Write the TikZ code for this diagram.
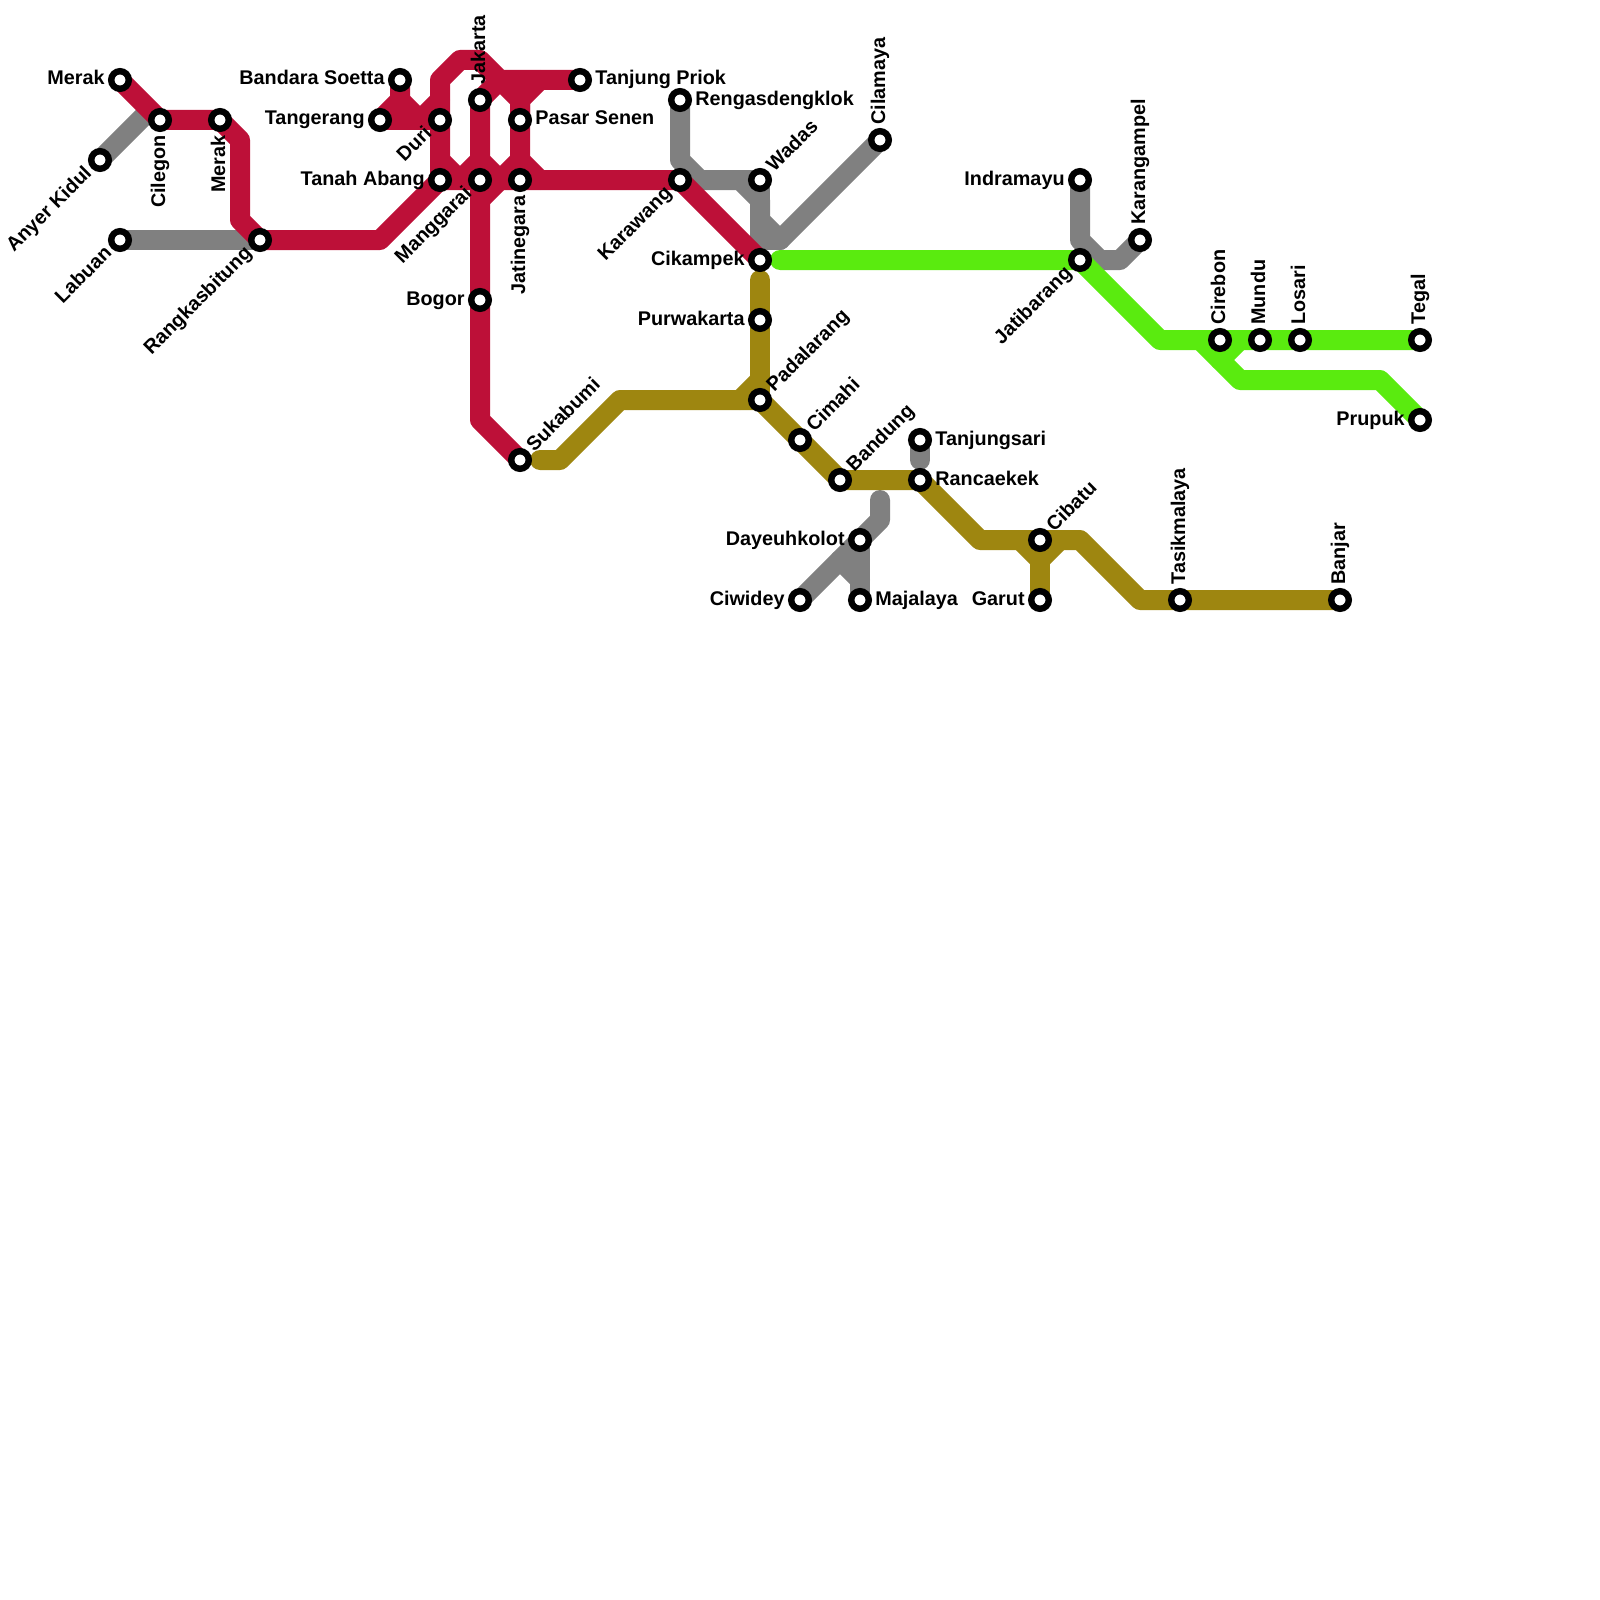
\documentclass[tikz,border=0pt]{standalone}
\usepackage{xcolor}
\usepackage{fontspec}
\setmainfont{Liberation Sans}
\usetikzlibrary{backgrounds}
\definecolor{linered}{HTML}{BD1038}
\definecolor{linegray}{HTML}{808080}
\definecolor{linegold}{HTML}{9E8610}
\definecolor{linegreen}{HTML}{5AEB0F}
\tikzstyle{stop} = [circle, minimum size=8.8pt, inner sep=0pt, outer sep=0pt, line width=3.2pt, draw=black, fill=white]
\tikzstyle{track} = [line width=10pt, line cap=round, line join=round]
\tikzstyle{lbl} = [inner sep=0pt, text height=5pt, text depth=0pt, font=\fontsize{9.9pt}{12pt}\selectfont\bfseries]
\tikzstyle{lble} = [lbl, anchor=west, xshift=7.5pt]
\tikzstyle{lblw} = [lbl, anchor=east, xshift=-7.5pt]
\tikzstyle{lbln} = [lbl, anchor=west, rotate=90, xshift=7.5pt]
\tikzstyle{lbls} = [lbl, anchor=east, rotate=90, xshift=-7.5pt]
\tikzstyle{lblne} = [lbl, anchor=west, rotate=45, xshift=7.5pt]
\tikzstyle{lblsw} = [lbl, anchor=east, rotate=45, xshift=-7.5pt]

\begin{document}
\begin{tikzpicture}[x=10pt, y=-10pt]
        \useasboundingbox (0,0) rectangle (80,80);

        \node (merak) [stop] at (6,4) {};
        \node (anyer) [stop] at (5,8) {};
        \node (cilegon) [stop] at (8,6) {};
        \node (merakb) [stop] at (11,6) {};
        \node (labuan) [stop] at (6,12) {};
        \node (rangkas) [stop] at (13,12) {};
        \node (soetta) [stop] at (20,4) {};
        \node (tangerang) [stop] at (19,6) {};
        \node (duri) [stop] at (22,6) {};
        \node (tanah) [stop] at (22,9) {};
        \node (jakarta) [stop] at (24,5) {};
        \node (manggarai) [stop] at (24,9) {};
        \node (jatinegara) [stop] at (26,9) {};
        \node (senen) [stop] at (26,6) {};
        \node (priok) [stop] at (29,4) {};
        \node (bogor) [stop] at (24,15) {};
        \node (sukabumi) [stop] at (26,23) {};
        \node (karawang) [stop] at (34,9) {};
        \node (rengas) [stop] at (34,5) {};
        \node (wadas) [stop] at (38,9) {};
        \node (cilamaya) [stop] at (44,7) {};
        \node (cikampek) [stop] at (38,13) {};
        \node (purwakarta) [stop] at (38,16) {};
        \node (padalarang) [stop] at (38,20) {};
        \node (cimahi) [stop] at (40,22) {};
        \node (bandung) [stop] at (42,24) {};
        \node (tanjungsari) [stop] at (46,22) {};
        \node (rancaekek) [stop] at (46,24) {};
        \node (dayeuh) [stop] at (43,27) {};
        \node (ciwidey) [stop] at (40,30) {};
        \node (majalaya) [stop] at (43,30) {};
        \node (cibatu) [stop] at (52,27) {};
        \node (garut) [stop] at (52,30) {};
        \node (tasik) [stop] at (59,30) {};
        \node (banjar) [stop] at (67,30) {};
        \node (indramayu) [stop] at (54,9) {};
        \node (karangampel) [stop] at (57,12) {};
        \node (jatibarang) [stop] at (54,13) {};
        \node (cirebon) [stop] at (61,17) {};
        \node (mundu) [stop] at (63,17) {};
        \node (losari) [stop] at (65,17) {};
        \node (tegal) [stop] at (71,17) {};
        \node (prupuk) [stop] at (71,21) {};

        \node (merakl) [lblw] at (merak) {Merak};
        \node (anyerl) [lblsw] at (anyer) {Anyer Kidul};
        \node (cilegonl) [lbls] at (cilegon) {Cilegon};
        \node (merakbl) [lbls] at (merakb) {Merak};
        \node (labuanl) [lblsw] at (labuan) {Labuan};
        \node (rangkasl) [lblsw] at (rangkas) {Rangkasbitung};
        \node (soettal) [lblw] at (soetta) {Bandara Soetta};
        \node (tangerangl) [lblw] at (tangerang) {Tangerang};
        \node (duril) [lblsw] at (duri) {Duri};
        \node (tanahl) [lblw] at (tanah) {Tanah Abang};
        \node (jakartal) [lbln] at (jakarta) {Jakarta};
        \node (manggarail) [lblsw] at (manggarai) {Manggarai};
        \node (jatinegaral) [lbls] at (jatinegara) {Jatinegara};
        \node (senenl) [lble] at (senen) {Pasar Senen};
        \node (priokl) [lble] at (priok) {Tanjung Priok};
        \node (bogorl) [lblw] at (bogor) {Bogor};
        \node (sukabumil) [lblne] at (sukabumi) {Sukabumi};
        \node (karawangl) [lblsw] at (karawang) {Karawang};
        \node (rengasl) [lble] at (rengas) {Rengasdengklok};
        \node (wadasl) [lblne] at (wadas) {Wadas};
        \node (cilamayal) [lbln] at (cilamaya) {Cilamaya};
        \node (cikampekl) [lblw] at (cikampek) {Cikampek};
        \node (purwakartal) [lblw] at (purwakarta) {Purwakarta};
        \node (padalarangl) [lblne] at (padalarang) {Padalarang};
        \node (cimahil) [lblne] at (cimahi) {Cimahi};
        \node (bandungl) [lblne] at (bandung) {Bandung};
        \node (tanjungsaril) [lble] at (tanjungsari) {Tanjungsari};
        \node (rancaekekl) [lble] at (rancaekek) {Rancaekek};
        \node (dayeuhl) [lblw] at (dayeuh) {Dayeuhkolot};
        \node (ciwideyl) [lblw] at (ciwidey) {Ciwidey};
        \node (majalayal) [lble] at (majalaya) {Majalaya};
        \node (cibatul) [lblne] at (cibatu) {Cibatu};
        \node (garutl) [lblw] at (garut) {Garut};
        \node (tasikl) [lbln] at (tasik) {Tasikmalaya};
        \node (banjarl) [lbln] at (banjar) {Banjar};
        \node (indramayul) [lblw] at (indramayu) {Indramayu};
        \node (karangampell) [lbln] at (karangampel) {Karangampel};
        \node (jatibarangl) [lblsw] at (jatibarang) {Jatibarang};
        \node (cirebonl) [lbln] at (cirebon) {Cirebon};
        \node (mundul) [lbln] at (mundu) {Mundu};
        \node (losaril) [lbln] at (losari) {Losari};
        \node (tegall) [lbln] at (tegal) {Tegal};
        \node (prupukl) [lblw] at (prupuk) {Prupuk};

        \begin{scope}[on background layer]
        % grey branches
        \draw [track, linegray] (anyer.center) -- (7.3,5.7);
        \draw [track, linegray] (labuan.center) -- (rangkas.center);
        \draw [track, linegray] (rengas.center) -- (34,8) -- (35,9) -- (37,9) -- (38,10) -- (38,11) -- (39,12) -- (cilamaya.center);
        \draw [track, linegray] (35,9) -- (wadas.center) -- (38,12) -- (39,12);
        \draw [track, linegray] (tanjungsari.center) -- (46,23);
        \draw [track, linegray] (44,25) -- (44,26) -- (dayeuh.center) -- (ciwidey.center);
        \draw [track, linegray] (dayeuh.center) -- (majalaya.center);
        \draw [track, linegray] (42,28) -- (43,29);
        \draw [track, linegray] (indramayu.center) -- (54,12) -- (55,13) -- (56,13) -- (karangampel.center);

        % gold line
        \draw [track, linegold] (27,23) -- (28,23) -- (31,20) -- (padalarang.center) -- (bandung.center) -- (rancaekek.center) -- (49,27) -- (54,27) -- (57,30) -- (banjar.center);
        \draw [track, linegold] (38,14) -- (padalarang.center);
        \draw [track, linegold] (37,20) -- (38,19);
        \draw [track, linegold] (51,27) -- (52,28) -- (53,27);
        \draw [track, linegold] (cibatu.center) -- (garut.center);

        % green line
        \draw [track, linegreen] (39,13) -- (jatibarang.center) -- (58,17) -- (tegal.center);
        \draw [track, linegreen] (60,17) -- (62,19) -- (69,19) -- (prupuk.center);
        \draw [track, linegreen] (61,18) -- (62,17);

        % red network
        \draw [track, linered] (merak.center) -- (cilegon.center) -- (merakb.center) -- (12,7) -- (12,11) -- (rangkas.center) -- (19,12) -- (tanah.center) -- (karawang.center) -- (cikampek.center);
        \draw [track, linered] (soetta.center) -- (20,5) -- (tangerang.center) -- (duri.center);
        \draw [track, linered] (20,5) -- (21,6) -- (22,5);
        \draw [track, linered] (tanah.center) -- (22,4) -- (23,3) -- (24,3) -- (25,4) -- (priok.center);
        \draw [track, linered] (jakarta.center) -- (24,21) -- (sukabumi.center);
        \draw [track, linered] (jakarta.center) -- (25,4) -- (26,5) -- (jatinegara.center);
        \draw [track, linered] (senen.center) -- (26,5) -- (27,4);
        \draw [track, linered] (22,8) -- (23,9) -- (24,8);
        \draw [track, linered] (24,8) -- (25,9) -- (26,8) -- (27,9);
        \draw [track, linered] (24,10) -- (25,9);
        \end{scope}
    \end{tikzpicture}
\end{document}
